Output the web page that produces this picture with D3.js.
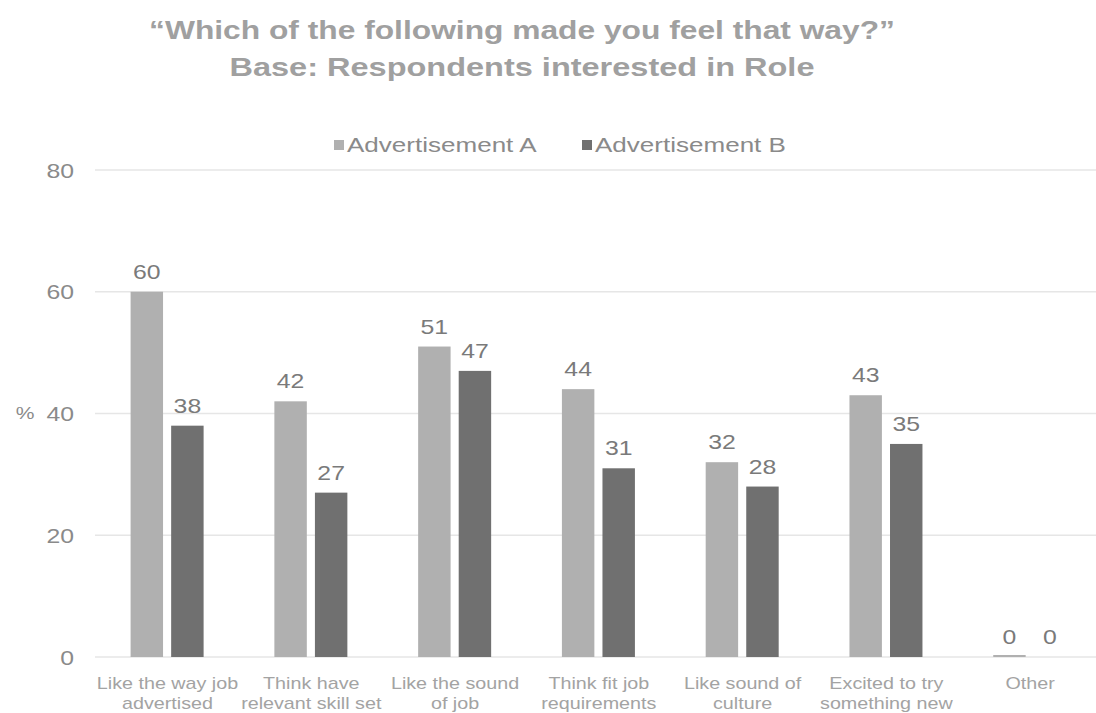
<!DOCTYPE html>
<html>
<head>
<meta charset="utf-8">
<script src="https://cdn.jsdelivr.net/npm/d3@7/dist/d3.min.js"></script>
<style>
  html, body { margin: 0; padding: 0; background: #fff; }
  svg { display: block; font-family: "Liberation Sans", Arial, sans-serif; }
</style>
</head>
<body>
<svg id="chart" width="1096" height="713"></svg>
<script>
// Survey answers: share of respondents (%) per reason
const categories = [
  ["Like the way job", "advertised"],
  ["Think have", "relevant skill set"],
  ["Like the sound", "of job"],
  ["Think fit job", "requirements"],
  ["Like sound of", "culture"],
  ["Excited to try", "something new"],
  ["Other"]
];
const seriesNames = ["Advertisement A", "Advertisement B"];
const adA = [60, 42, 51, 44, 32, 43, 0];
const adB = [38, 27, 47, 31, 28, 35, 0];
const yTicks = [0, 20, 40, 60, 80];
const titleLines = ["\u201CWhich of the following made you feel that way?\u201D", "Base: Respondents interested in Role"];

const colors = ["#b0b0b0", "#707070"];
const TEXT_STRETCH = 1.24;   // wide text face
const svg = d3.select("#chart");

// place a text element at (x, y) with a horizontal stretch
function placeText(sel, x, y, sx) {
  return sel.attr("x", 0).attr("y", 0)
    .attr("transform", `translate(${x},${y}) scale(${sx},1)`);
}

const x0 = d3.scaleBand().domain(d3.range(categories.length)).range([95.6, 1102]);
const x1 = d3.scaleBand().domain([0, 1]).range([35, 108]).paddingInner(0.2);
const y = d3.scaleLinear().domain([0, 80]).range([657, 170]);

// Gridlines
svg.append("g").selectAll("line").data(yTicks).join("line")
  .attr("x1", 95).attr("x2", 1096)
  .attr("y1", d => y(d)).attr("y2", d => y(d))
  .attr("stroke", "#e6e6e6").attr("stroke-width", 1.5);

// Y axis labels
const yAxis = d3.axisLeft(y).tickValues(yTicks).tickSize(0).tickPadding(0);
const gy = svg.append("g").attr("transform", "translate(74,0)").call(yAxis);
gy.select(".domain").remove();
gy.selectAll("text").attr("font-size", 20).attr("fill", "#8a8a8a")
  .attr("dy", "0.35em").attr("x", 0)
  .attr("transform", `scale(${TEXT_STRETCH},1)`);

placeText(svg.append("text"), 25, y(40), TEXT_STRETCH).attr("dy", "0.35em")
  .attr("font-size", 17).attr("fill", "#8a8a8a").attr("text-anchor", "middle").text("%");

// Bars and value labels
const series = [adA, adB];
const groups = svg.append("g").selectAll("g").data(categories).join("g")
  .attr("transform", (d, i) => `translate(${x0(i)},0)`);

groups.each(function(cat, i) {
  const g = d3.select(this);
  series.forEach((vals, s) => {
    const v = vals[i];
    if (v > 0) {
      g.append("rect")
        .attr("x", x1(s)).attr("width", x1.bandwidth())
        .attr("y", y(v)).attr("height", y(0) - y(v))
        .attr("fill", colors[s]);
    }
    placeText(g.append("text"), x1(s) + x1.bandwidth() / 2, y(v) - 13, TEXT_STRETCH)
      .attr("text-anchor", "middle")
      .attr("font-size", 20).attr("fill", "#7a7a7a")
      .text(v);
  });
  // a zero-height bar shows as a thin line on the baseline
  if (series.every(vals => vals[i] === 0)) {
    g.append("line")
      .attr("x1", x1(0)).attr("x2", x1(0) + x1.bandwidth())
      .attr("y1", y(0) - 1).attr("y2", y(0) - 1)
      .attr("stroke", "#b0b0b0").attr("stroke-width", 2);
  }
});

// Category labels
svg.append("g").selectAll("text").data(categories).join("text")
  .each(function(d, i) {
    const t = placeText(d3.select(this), x0(i) + x0.bandwidth() / 2, 689, 1.16)
      .attr("text-anchor", "middle")
      .attr("font-size", 17).attr("fill", "#a3a3a3");
    t.selectAll("tspan").data(d).join("tspan")
      .attr("x", 0)
      .attr("dy", (s, j) => j === 0 ? 0 : 20)
      .text(s => s);
  });

// Legend
const legend = svg.append("g").attr("transform", "translate(0,145)");
const legX = [334, 582];
seriesNames.forEach((name, s) => {
  legend.append("rect").attr("x", legX[s]).attr("y", -5).attr("width", 10).attr("height", 10).attr("fill", colors[s]);
  placeText(legend.append("text"), legX[s] + 13, 0, TEXT_STRETCH).attr("dy", "0.35em")
    .attr("font-size", 21).attr("fill", "#8a8a8a").text(name);
});

// Title
svg.append("g").selectAll("text").data(titleLines).join("text")
  .each(function(d, i) {
    placeText(d3.select(this), 522, 39 + i * 37, i === 0 ? 1.27 : 1.3)
      .attr("text-anchor", "middle")
      .attr("font-size", 25).attr("font-weight", "bold").attr("fill", "#a0a0a0")
      .text(d);
  });
</script>
</body>
</html>
